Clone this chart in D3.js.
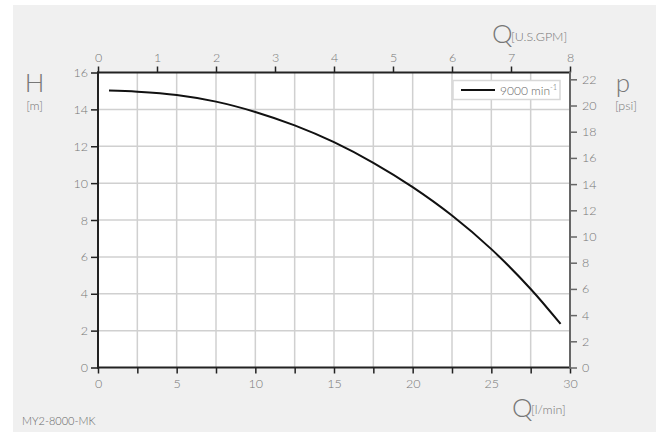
<!DOCTYPE html>
<html><head><meta charset="utf-8">
<script src="https://cdn.jsdelivr.net/npm/d3@7"></script>
<style>
html,body{margin:0;padding:0;background:#fff;}
text{font-family:"Lato","DejaVu Sans",sans-serif;font-weight:300;}
</style></head>
<body>
<svg id="c" width="664" height="432"></svg>
<script>
// Data
const flowLmin = [0.7, 2.5, 5, 7.5, 10, 12.5, 15, 17.5, 20, 22.5, 25, 27.5, 29.4];
const headM    = [15.02, 14.96, 14.78, 14.42, 13.86, 13.13, 12.22, 11.1, 9.78, 8.24, 6.42, 4.26, 2.36];
const seriesName = "9000 min";
const xTicksLmin = [0, 5, 10, 15, 20, 25, 30];
const xGridLmin = d3.range(0, 30.01, 2.5);
const topTicksGPM = [0,1,2,3,4,5,6,7,8];
const yTicksM = [0,2,4,6,8,10,12,14,16];
const rightTicksPsi = [0,2,4,6,8,10,12,14,16,18,20,22];
const modelLabel = "MY2-8000-MK";

const svg = d3.select("#c");
const L=98, R=570, T=72.5, B=367.5;

svg.append("rect").attr("x",13).attr("y",5).attr("width",643).attr("height",427).attr("fill","#f0f0f0");
svg.append("rect").attr("x",L).attr("y",T).attr("width",R-L).attr("height",B-T).attr("fill","#fff");

const x = d3.scaleLinear().domain([0,30]).range([L,R]);
const xTop = d3.scaleLinear().domain([0,8]).range([L,R]);
const y = d3.scaleLinear().domain([0,16]).range([B,T]);
const yR = d3.scaleLinear().domain([0,22.52]).range([B,T]);

// grid
const g = svg.append("g");
g.selectAll(".vg").data(xGridLmin.slice(1,-1)).enter().append("line")
  .attr("x1",d=>x(d)).attr("x2",d=>x(d)).attr("y1",T).attr("y2",B)
  .attr("stroke","#d0d0d0").attr("stroke-width",1.5);
g.selectAll(".hg").data(yTicksM.slice(1,-1)).enter().append("line")
  .attr("x1",L).attr("x2",R).attr("y1",d=>y(d)).attr("y2",d=>y(d))
  .attr("stroke","#d0d0d0").attr("stroke-width",1.5);

const tickColor="#777";
function styleAxis(sel, lineColor){
  sel.select(".domain").remove();
  sel.selectAll(".tick line").attr("stroke",lineColor).attr("stroke-width",1.5);
  sel.selectAll(".tick text").attr("fill",tickColor).attr("font-size",12.5);
}

const bax = svg.append("g").attr("transform",`translate(0,${B})`)
  .call(d3.axisBottom(x).tickValues(xGridLmin).tickSize(6).tickPadding(6)
     .tickFormat(d=> xTicksLmin.includes(d) ? d : ""));
styleAxis(bax,"#222");
const tax = svg.append("g").attr("transform",`translate(0,${T})`)
  .call(d3.axisTop(xTop).tickValues(topTicksGPM).tickSize(6).tickPadding(5));
styleAxis(tax,"#222");
const lax = svg.append("g").attr("transform",`translate(${L},0)`)
  .call(d3.axisLeft(y).tickValues(yTicksM).tickSize(7).tickPadding(3));
styleAxis(lax,"#222");
const rax = svg.append("g").attr("transform",`translate(${R},0)`)
  .call(d3.axisRight(yR).tickValues(rightTicksPsi).tickSize(7).tickPadding(5));
styleAxis(rax,"#666");

// axis lines
svg.append("line").attr("x1",L).attr("x2",L).attr("y1",T-1).attr("y2",B+1).attr("stroke","#222").attr("stroke-width",2);
svg.append("line").attr("x1",L-1).attr("x2",R).attr("y1",B).attr("y2",B).attr("stroke","#222").attr("stroke-width",2);
svg.append("line").attr("x1",L-1).attr("x2",R).attr("y1",T).attr("y2",T).attr("stroke","#222").attr("stroke-width",2);
svg.append("line").attr("x1",R).attr("x2",R).attr("y1",T-1).attr("y2",B+1).attr("stroke","#666").attr("stroke-width",2);

// curve
const pts = flowLmin.map((q,i)=>[q,headM[i]]);
svg.append("path").datum(pts)
  .attr("d", d3.line().x(d=>x(d[0])).y(d=>y(d[1])).curve(d3.curveCatmullRom.alpha(0.5)))
  .attr("fill","none").attr("stroke","#111").attr("stroke-width",2);

// legend
svg.append("rect").attr("x",453).attr("y",80.5).attr("width",107).attr("height",19)
  .attr("fill","#fff").attr("stroke","#d8d8d8").attr("stroke-width",1.5);
svg.append("line").attr("x1",461).attr("x2",495).attr("y1",90).attr("y2",90).attr("stroke","#111").attr("stroke-width",2);
const lt = svg.append("text").attr("x",500).attr("y",95).attr("font-size",12).attr("fill","#666").text(seriesName);
lt.append("tspan").attr("font-size",7.5).attr("dy",-5).text("-1");

// axis titles
const titleColor="#777";
svg.append("text").attr("x",34.5).attr("y",92).attr("text-anchor","middle").attr("font-size",26).attr("fill",titleColor).text("H");
svg.append("text").attr("x",34.5).attr("y",110).attr("text-anchor","middle").attr("font-size",12.5).attr("fill",titleColor).text("[m]");
svg.append("text").attr("x",623).attr("y",92).attr("text-anchor","middle").attr("font-size",26).attr("fill",titleColor).text("p");
svg.append("text").attr("x",626).attr("y",110).attr("text-anchor","middle").attr("font-size",12.5).attr("fill",titleColor).text("[psi]");

svg.append("text").attr("x",492).attr("y",43).attr("font-size",26).attr("fill",titleColor).text("Q");
svg.append("text").attr("x",511).attr("y",41).attr("font-size",12.5).attr("fill",titleColor).text("[U.S.GPM]");
svg.append("text").attr("x",512).attr("y",417).attr("font-size",26).attr("fill",titleColor).text("Q");
svg.append("text").attr("x",531).attr("y",414).attr("font-size",12.5).attr("fill",titleColor).text("[l/min]");

svg.append("text").attr("x",22).attr("y",425).attr("font-size",11).attr("fill","#666").text(modelLabel);
</script>
</body></html>
